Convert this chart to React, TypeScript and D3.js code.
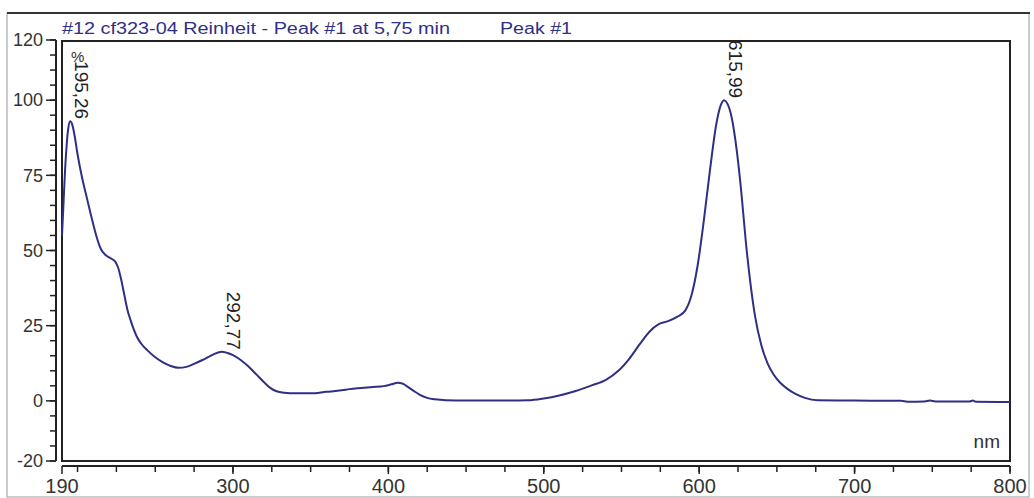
import React from "react";
import * as d3 from "d3";

// Spectrum: wavelength (nm) and relative absorbance (%)
const wavelengths = [
  190, 191, 192, 193, 194, 195.3, 196.5, 198, 200, 203, 206, 209, 212, 215, 218, 221, 224, 226, 228, 230,
  232, 234, 236, 238, 241, 245, 250, 255, 260, 265, 270, 275, 280, 285, 290, 293, 296, 300, 305, 310,
  315, 320, 324, 328, 333, 340, 350, 360, 370, 375, 380, 390, 397, 402, 406, 409, 412, 416, 420, 425,
  430, 437, 450, 470, 490, 500, 510, 520, 530, 540, 548, 555, 562, 568, 574, 580, 586, 591, 595, 599,
  603, 607, 611, 614, 616, 618, 621, 624, 627, 630, 633, 636, 640, 644, 648, 652, 657, 662, 668, 676,
  700, 730, 734, 745, 748.5, 752, 774, 776, 778, 800,
];
const absorbance = [
  55, 66, 77, 85, 90.5, 93, 92, 88.5, 82, 74, 67.5, 61, 55, 50.5, 48.5, 47.5, 46.5, 44.5, 40.5, 35.5,
  30.5, 27, 24, 21.5, 19, 16.8, 14.5, 12.8, 11.6, 11, 11.3, 12.3, 13.5, 14.8, 16, 16.3, 16, 15.2, 13.6, 11.4,
  8.8, 6.2, 4.3, 3.2, 2.7, 2.5, 2.5, 3.0, 3.5, 3.9, 4.2, 4.6, 4.9, 5.5, 6, 5.8, 4.8, 3.4, 2.1, 1.0,
  0.5, 0.2, 0.1, 0.1, 0.2, 0.8, 1.8, 3.2, 5, 7, 10, 14, 19, 23, 25.5, 26.5, 28, 30, 35, 45,
  60, 77, 92, 98.5, 100, 99, 94, 84, 70, 53, 39, 28, 18.5, 12.5, 8.7, 6.1, 3.9, 2.3, 1.0, 0.2,
  0.1, 0, -0.3, -0.2, 0.1, -0.2, -0.2, 0.1, -0.3, -0.4,
];

// Peak labels
const peakNm = [195.26, 292.77, 615.99];
const peakValue = [93, 16.3, 100];
const peakText = ["195,26", "292,77", "615,99"];

// Axis ticks
const xLabelTicks = [190, 300, 400, 500, 600, 700, 800];
const xMinorTicks = d3.range(200, 801, 25);
const yLabelTicks = [120, 100, 75, 50, 25, 0, -20];
const yMinorTicks = d3.range(-20, 121, 5);

const titleMain = "#12 cf323-04 Reinheit - Peak #1 at 5,75 min";
const titlePeak = "Peak #1";
const xUnit = "nm";
const yUnit = "%";

const W = 1034;
const H = 498;
const FONT = "'Liberation Sans', Arial, sans-serif";
const NAVY = "#2f2f86";

export default function App() {
  const x = d3.scaleLinear().domain([190, 800]).range([62, 1010]);
  const y = d3.scaleLinear().domain([-20, 120]).range([461, 40]);
  const pts = wavelengths.map((w, i) => [w, absorbance[i]] as [number, number]);
  const line = d3
    .line<[number, number]>()
    .x((d) => x(d[0]))
    .y((d) => y(d[1]))
    .curve(d3.curveMonotoneX);

  const plotL = 62, plotR = 1010, plotT = 41, plotB = 461;
  const yAxisX = 56;
  const xAxisY = 466;

  return (
    <svg
      width={W}
      height={H}
      style={{ position: "absolute", left: 0, top: 0, background: "#fff" }}
      fontFamily={FONT}
    >
      {/* outer frame */}
      <rect x={7} y={13} width={1022} height={484} fill="none" stroke="#9a9a9a" strokeWidth={1} />
      <line x1={7} x2={1030} y1={13} y2={13} stroke="#333" strokeWidth={2} />

      {/* title */}
      <text x={62} y={34} fontSize={16} fill={NAVY} textLength={388} lengthAdjust="spacingAndGlyphs">
        {titleMain}
      </text>
      <text x={500} y={34} fontSize={16} fill={NAVY} textLength={72} lengthAdjust="spacingAndGlyphs">
        {titlePeak}
      </text>

      {/* plot frame */}
      <rect
        x={plotL}
        y={plotT}
        width={plotR - plotL}
        height={plotB - plotT}
        fill="none"
        stroke="#222"
        strokeWidth={2}
      />

      {/* y axis */}
      <line x1={yAxisX} x2={yAxisX} y1={y(120)} y2={y(-20)} stroke="#222" strokeWidth={2} />
      {yMinorTicks.map((t) => (
        <line key={"ym" + t} x1={yAxisX - 6} x2={yAxisX} y1={y(t)} y2={y(t)} stroke="#222" strokeWidth={1.5} />
      ))}
      {yLabelTicks.map((t) => (
        <g key={"yl" + t}>
          <line x1={yAxisX - 10} x2={yAxisX} y1={y(t)} y2={y(t)} stroke="#222" strokeWidth={1.5} />
          <text x={43} y={y(t)} dy="0.35em" textAnchor="end" fontSize={18} fill="#333">
            {t}
          </text>
        </g>
      ))}

      {/* x axis */}
      <line x1={plotL} x2={plotR} y1={xAxisY} y2={xAxisY} stroke="#222" strokeWidth={2} />
      {xMinorTicks.map((t) => (
        <line key={"xm" + t} x1={x(t)} x2={x(t)} y1={xAxisY} y2={xAxisY + 6} stroke="#222" strokeWidth={1.5} />
      ))}
      {xLabelTicks.map((t) => (
        <g key={"xl" + t}>
          <line x1={x(t)} x2={x(t)} y1={xAxisY} y2={xAxisY + 8} stroke="#222" strokeWidth={1.5} />
          <text x={x(t)} y={493} textAnchor="middle" fontSize={20} fill="#333">
            {t}
          </text>
        </g>
      ))}

      {/* units */}
      <text x={plotR - 10} y={448} textAnchor="end" fontSize={19} fill="#333">
        {xUnit}
      </text>

      {/* spectrum */}
      <path d={line(pts) || ""} fill="none" stroke={NAVY} strokeWidth={2} />

      {/* peak labels */}
      {peakNm.map((p, i) => {
        const px = x(p) + 5;
        const py = y(peakValue[i]) - 2;
        return (
          <text
            key={"pk" + i}
            transform={`translate(${px},${py}) rotate(90)`}
            textAnchor="end"
            fontSize={19}
            fill="#222"
          >
            {peakText[i]}
          </text>
        );
      })}
      <text x={71} y={62} fontSize={15} fill="#333">
        {yUnit}
      </text>
    </svg>
  );
}
